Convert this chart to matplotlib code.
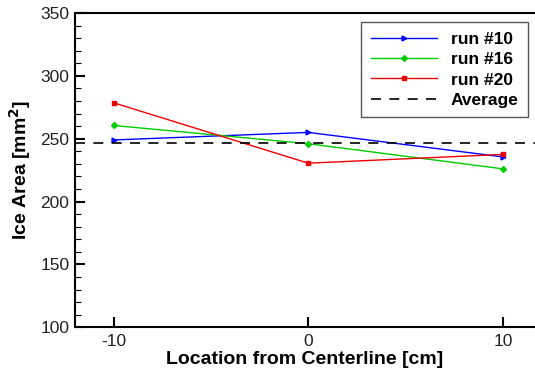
import numpy as np
import matplotlib
matplotlib.use("Agg")
import matplotlib.pyplot as plt
from matplotlib.ticker import MultipleLocator

plt.rcParams['font.family'] = ['Liberation Sans', 'DejaVu Sans']

# data
location = [-10, 0, 10]
run10 = [249, 255, 235.5]
run16 = [260.5, 246, 226]
run20 = [278.5, 230.5, 237.5]
average = 246.7

fig = plt.figure(figsize=(5.35, 3.71), dpi=100, facecolor="w")
ax = fig.add_axes([0.14, 0.118, 0.86, 0.847])

ax.plot(location, run10, color='#0000ff', lw=1, marker='>', ms=3.5, label='run #10')
ax.plot(location, run16, color='#00cc00', lw=1, marker='D', ms=3, label='run #16')
ax.plot(location, run20, color='#ee0000', lw=1, marker='s', ms=3, label='run #20')
ax.axhline(average, color='black', lw=1.2, ls=(0, (6, 5)), label='Average')

ax.set_xlim(-12, 11.65)
ax.set_ylim(100, 350)
ax.set_xticks(location)
ax.set_xticklabels(['-10', '0', '10'])
ax.yaxis.set_major_locator(MultipleLocator(50))
ax.yaxis.set_minor_locator(MultipleLocator(10))
ax.tick_params(direction='in', length=7, width=1.5, labelsize=12.5, pad=4, labelcolor='#222222')
ax.tick_params(which='minor', direction='in', length=4, width=0.8)
ax.tick_params(axis='x', pad=5)
ax.spines['right'].set_visible(False)
for s in ['left', 'bottom', 'top']:
    ax.spines[s].set_linewidth(1.5)

ax.set_xlabel("Location from Centerline [cm]", fontsize=14, fontweight='bold', labelpad=1)
ax.set_ylabel("Ice Area [mm$^\\mathbf{2}$]", fontsize=14, fontweight='bold', labelpad=5)

leg = ax.legend(loc='upper right', bbox_to_anchor=(0.985, 0.971), borderaxespad=0,
                fancybox=False, edgecolor='#555555', framealpha=1,
                prop={'weight': 'bold', 'size': 12.5},
                handlelength=3.8, borderpad=0.55, labelspacing=0.3, handletextpad=0.8)
leg.get_frame().set_linewidth(1)

plt.savefig("out.png", dpi=100)
